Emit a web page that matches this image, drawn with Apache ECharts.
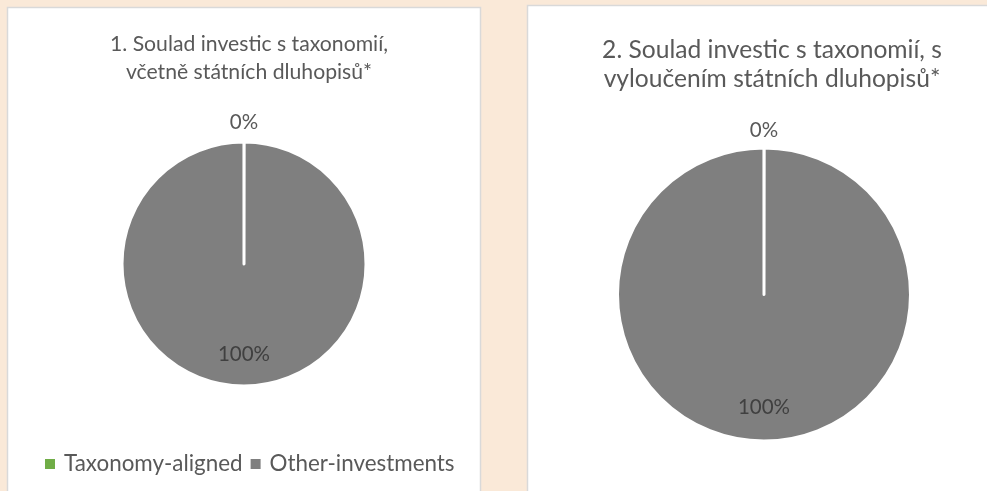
<!DOCTYPE html>
<html>
<head>
<meta charset="utf-8">
<script src="https://cdn.jsdelivr.net/npm/echarts@6/dist/echarts.min.js"></script>
<style>
  html, body { margin: 0; padding: 0; background: #fae9d8; }
  #chart { width: 987px; height: 491px; }
</style>
</head>
<body>
<div id="chart"></div>
<script>
const categories = ['Taxonomy-aligned', 'Other-investments'];
const colors = ['#70ad47', '#7f7f7f'];
const values1 = [0, 100];
const values2 = [0, 100];
const titles = [
    '1. Soulad investic s taxonomií,\nvčetně státních dluhopisů*',
    '2. Soulad investic s taxonomií, s\nvyloučením státních dluhopisů*'
];

const font = 'Lato, "Noto Sans", sans-serif';

const toData = (values) => values.map((v, i) => ({
    name: categories[i],
    value: v,
    itemStyle: { color: colors[i] }
}));

// one visible pie plus two transparent ones that only carry the labels
const pieSeries = (values, center, r, innerFrac, topGap) => {
    const data = toData(values);
    return [
        {
            type: 'pie',
            center: center,
            radius: r,
            startAngle: 90,
            padAngle: 0.05, // keeps the full slice from becoming a plain circle, so its edge is stroked
            silent: true,
            label: { show: false },
            labelLine: { show: false },
            itemStyle: { borderColor: '#ffffff', borderWidth: 3 },
            data: data
        },
        {
            type: 'pie',
            center: center,
            radius: [r * innerFrac, r],
            startAngle: 90,
            silent: true,
            itemStyle: { color: 'transparent' },
            labelLine: { show: false },
            data: data.map((d, i) => ({
                name: d.name,
                value: d.value,
                itemStyle: { color: 'transparent' },
                label: {
                    show: i === 1,
                    position: 'inside',
                    formatter: '{d}%',
                    color: '#404040',
                    fontFamily: font,
                    fontSize: 20.5
                }
            }))
        },
        {
            type: 'pie',
            center: center,
            radius: [r + topGap - 8, r + topGap + 8],
            startAngle: 90,
            silent: true,
            itemStyle: { color: 'transparent' },
            labelLine: { show: false },
            data: data.map((d, i) => ({
                name: d.name,
                value: d.value,
                itemStyle: { color: 'transparent' },
                label: {
                    show: i === 0,
                    position: 'inside',
                    formatter: '{d}%',
                    color: '#595959',
                    fontFamily: font,
                    fontSize: 20.5
                }
            }))
        }
    ];
};

const myChart = echarts.init(document.getElementById('chart'));
let option = {
    backgroundColor: '#fae9d8',
    animation: false,
    graphic: [
        {
            type: 'rect',
            shape: { x: 7.5, y: 7.5, width: 473, height: 500 },
            style: { fill: '#ffffff', stroke: '#d9d9d9', lineWidth: 1.5 },
            z: -10
        },
        {
            type: 'rect',
            shape: { x: 527.5, y: 5.5, width: 480, height: 500 },
            style: { fill: '#ffffff', stroke: '#d9d9d9', lineWidth: 1.5 },
            z: -10
        }
    ],
    title: [
        {
            text: titles[0],
            left: 244,
            top: 25,
            textAlign: 'center',
            textStyle: {
                fontFamily: font,
                fontWeight: 'normal',
                fontSize: 21.2,
                lineHeight: 28,
                color: '#595959'
            }
        },
        {
            text: titles[1],
            left: 767,
            top: 31,
            textAlign: 'center',
            textStyle: {
                fontFamily: font,
                fontWeight: 'normal',
                fontSize: 24.6,
                lineHeight: 29,
                color: '#595959'
            }
        }
    ],
    legend: {
        data: categories.map((c, i) => ({
            name: c,
            itemStyle: { color: colors[i], borderWidth: 0 }
        })),
        left: 40,
        top: 448,
        icon: 'rect',
        itemWidth: 10,
        itemHeight: 10,
        itemGap: 8,
        selectedMode: false,
        itemStyle: { borderWidth: 0 },
        textStyle: {
            fontFamily: font,
            fontSize: 22.4,
            color: '#595959',
            padding: [0, 0, 0, 4]
        }
    },
    series: [
        ...pieSeries(values1, [244, 264], 122, 0.44, 17),
        ...pieSeries(values2, [764, 294.5], 146.5, 0.5, 15)
    ]
};
myChart.setOption(option);
window.addEventListener('resize', () => {
    myChart.resize();
});
</script>
</body>
</html>
